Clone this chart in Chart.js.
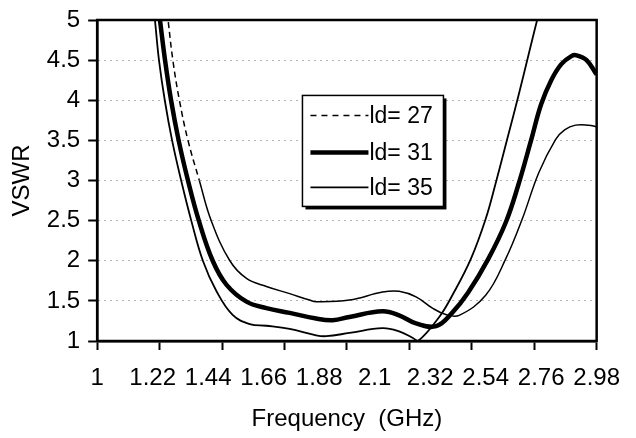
<!DOCTYPE html>
<html lang="en">
<head>
<meta charset="UTF-8">
<title>VSWR vs frequency</title>
<style>
  html, body { margin: 0; padding: 0; background: #fff; }
  canvas { display: block; }
</style>
</head>
<body>
<canvas id="vswrChart" width="636" height="438"></canvas>

<script src="https://cdn.jsdelivr.net/npm/chart.js"></script>
<script>
// values
const freq27 = [1.277, 1.281, 1.300, 1.326, 1.360, 1.405, 1.452, 1.526, 1.592, 1.671, 1.763, 1.842, 1.868, 2.000, 2.131, 2.197, 2.264, 2.329, 2.382, 2.435, 2.540, 2.619, 2.685, 2.751, 2.817, 2.853, 2.896, 2.948, 2.980];
const vswr27 = [5.1, 5.0, 4.5, 4.0, 3.5, 3.0, 2.5, 2.0, 1.78, 1.68, 1.59, 1.51, 1.49, 1.51, 1.61, 1.62, 1.55, 1.41, 1.33, 1.32, 1.57, 2.02, 2.52, 3.10, 3.51, 3.63, 3.69, 3.69, 3.67];

const freq31 = [1.245, 1.249, 1.269, 1.293, 1.323, 1.360, 1.403, 1.458, 1.513, 1.592, 1.671, 1.763, 1.868, 1.934, 2.000, 2.131, 2.197, 2.264, 2.344, 2.407, 2.470, 2.550, 2.620, 2.670, 2.720, 2.760, 2.800, 2.840, 2.880, 2.900, 2.940, 2.980];
const vswr31 = [5.1, 5.0, 4.5, 4.0, 3.5, 3.0, 2.5, 2.0, 1.70, 1.49, 1.41, 1.35, 1.28, 1.26, 1.30, 1.37, 1.32, 1.22, 1.185, 1.35, 1.60, 2.02, 2.48, 2.95, 3.50, 3.95, 4.25, 4.45, 4.55, 4.56, 4.50, 4.32];

const freq35 = [1.225, 1.229, 1.245, 1.268, 1.297, 1.333, 1.373, 1.419, 1.473, 1.537, 1.605, 1.671, 1.763, 1.868, 1.908, 2.000, 2.131, 2.197, 2.250, 2.272, 2.356, 2.408, 2.481, 2.540, 2.580, 2.625, 2.672, 2.711, 2.752];
const vswr35 = [5.1, 5.0, 4.5, 4.0, 3.5, 3.0, 2.5, 2.0, 1.62, 1.325, 1.21, 1.19, 1.15, 1.07, 1.06, 1.10, 1.16, 1.12, 1.04, 1.0, 1.30, 1.57, 2.02, 2.52, 2.97, 3.51, 4.08, 4.58, 5.10];

const seriesNames = ['ld= 27', 'ld= 31', 'ld= 35'];
const xTickValues = [1, 1.22, 1.44, 1.66, 1.88, 2.1, 2.32, 2.54, 2.76, 2.98];
const yTickValues = [1, 1.5, 2, 2.5, 3, 3.5, 4, 4.5, 5];

const FONT = 'Liberation Sans, Arial, sans-serif';

const toPoints = (xs, ys) => xs.map((x, i) => ({ x: x, y: ys[i] }));

// frame around plot area + legend box in the middle of it
const framePlugin = {
  id: 'frame',
  afterDatasetsDraw(chart) {
    const { ctx, chartArea: a } = chart;
    ctx.save();
    ctx.strokeStyle = '#000';
    ctx.lineWidth = 2.5;
    ctx.strokeRect(a.left, a.top, a.right - a.left, a.bottom - a.top);
    ctx.restore();
  },
  afterDraw(chart) {
    const { ctx, chartArea: a } = chart;
    const w = a.right - a.left, h = a.bottom - a.top;
    const bx = a.left + w * 0.411, by = a.top + h * 0.235;
    const bw = 141, bh = 111;
    ctx.save();
    ctx.fillStyle = '#000';
    ctx.fillRect(bx + 3, by + 3, bw, bh);
    ctx.fillStyle = '#fff';
    ctx.fillRect(bx, by, bw, bh);
    ctx.strokeStyle = '#000';
    ctx.lineWidth = 1.5;
    ctx.strokeRect(bx, by, bw, bh);
    const rows = [20, 57, 92];
    chart.data.datasets.forEach((ds, i) => {
      const y = by + rows[i];
      ctx.beginPath();
      ctx.lineWidth = ds.borderWidth;
      ctx.setLineDash(ds.legendDash || []);
      ctx.moveTo(bx + 8, y);
      ctx.lineTo(bx + 66, y);
      ctx.stroke();
      ctx.setLineDash([]);
      ctx.fillStyle = '#000';
      ctx.font = '23px ' + FONT;
      ctx.textBaseline = 'middle';
      ctx.fillText(ds.label, bx + 67, y + 1);
    });
    ctx.restore();
  }
};

const chart = new Chart(document.getElementById('vswrChart'), {
  type: 'line',
  data: {
    datasets: [
      {
        label: seriesNames[0],
        data: toPoints(freq27, vswr27),
        borderColor: '#000',
        borderWidth: 1.5,
        legendDash: [6, 5],
        segment: {
          borderDash: c => (c.p1.parsed.y > 2.9 && c.p1.parsed.x < 2 ? [6, 4] : [])
        }
      },
      {
        label: seriesNames[1],
        data: toPoints(freq31, vswr31),
        borderColor: '#000',
        borderWidth: 4.5
      },
      {
        label: seriesNames[2],
        data: toPoints(freq35, vswr35),
        borderColor: '#000',
        borderWidth: 1.8
      }
    ]
  },
  options: {
    responsive: false,
    animation: false,
    layout: { padding: { left: 6, right: 38, top: 13, bottom: 3 } },
    plugins: {
      legend: { display: false },
      tooltip: { enabled: false }
    },
    elements: { point: { radius: 0 }, line: { tension: 0.4 } },
    scales: {
      x: {
        type: 'linear',
        position: 'bottom',
        weight: 1,
        min: 1,
        max: 2.98,
        afterBuildTicks: s => { s.ticks = xTickValues.map(v => ({ value: v })); },
        ticks: {
          autoSkip: false,
          maxRotation: 0,
          padding: 16,
          color: '#000',
          font: { family: FONT, size: 24, lineHeight: 1 },
          callback: v => String(Math.round(v * 100) / 100)
        },
        grid: { display: false, drawTicks: false },
        border: { display: false },
        title: {
          display: true,
          text: 'Frequency  (GHz)',
          color: '#000',
          font: { family: FONT, size: 24, lineHeight: 1 },
          padding: { top: 1, bottom: 4 }
        }
      },
      xMarks: {
        type: 'linear',
        position: 'bottom',
        weight: 0,
        min: 0,
        max: 8,
        ticks: { display: false, stepSize: 1 },
        grid: {
          display: true,
          drawOnChartArea: false,
          drawTicks: true,
          tickLength: 9,
          tickColor: '#000',
          tickWidth: 2
        },
        border: { display: true, color: '#000', width: 2.5 }
      },
      y: {
        min: 1,
        max: 5,
        afterBuildTicks: s => { s.ticks = yTickValues.map(v => ({ value: v })); },
        ticks: {
          padding: 8,
          color: '#000',
          font: { family: FONT, size: 24, lineHeight: 1 },
          callback: v => String(v)
        },
        grid: {
          color: '#666',
          lineWidth: 1,
          tickLength: 9,
          tickColor: '#000',
          tickWidth: 2
        },
        border: { display: true, color: '#000', width: 2.5, dash: [1, 5] },
        title: {
          display: true,
          text: 'VSWR',
          color: '#000',
          font: { family: FONT, size: 24 },
          padding: { top: 2, bottom: 2 }
        }
      }
    }
  },
  plugins: [framePlugin]
});
</script>
</body>
</html>
